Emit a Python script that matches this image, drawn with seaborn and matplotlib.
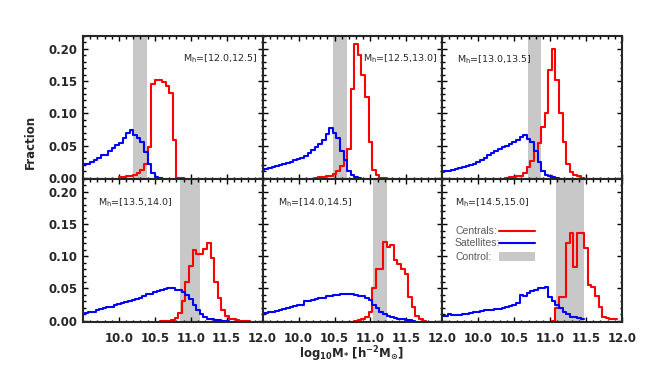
import numpy as np
import pandas as pd
import matplotlib
matplotlib.use("Agg")
import matplotlib.pyplot as plt
import seaborn as sns
from matplotlib.lines import Line2D
from matplotlib.patches import Rectangle
from matplotlib.ticker import FixedLocator, MultipleLocator, FormatStrFormatter

# halo mass bin of each panel
halo_labels = ["[12.0,12.5]", "[12.5,13.0]", "[13.0,13.5]",
               "[13.5,14.0]", "[14.0,14.5]", "[14.5,15.0]"]

# grey control sample range (log10 M*)
control_lo = [10.19, 10.48, 10.69, 10.85, 11.03, 11.08]
control_hi = [10.39, 10.68, 10.875, 11.135, 11.23, 11.475]

bin_width = 0.05

# centrals: left edge of first bin, then fraction per bin
cen_start = [10.0, 10.225, 10.375, 10.575, 10.775, 11.025]
cen_1 = [0.001, 0.001, 0.002, 0.003, 0.004, 0.007, 0.012, 0.022, 0.047, 0.146,
         0.151, 0.152, 0.149, 0.143, 0.131, 0.059, 0.0, 0.0]
cen_2 = [0.0, 0.001, 0.001, 0.002, 0.003, 0.006, 0.010, 0.018, 0.027, 0.044,
         0.138, 0.208, 0.190, 0.160, 0.125, 0.056, 0.012, 0.004, 0.0, 0.0]
cen_3 = [0.0, 0.001, 0.001, 0.002, 0.003, 0.008, 0.016, 0.026, 0.042, 0.054,
         0.078, 0.100, 0.168, 0.200, 0.152, 0.100, 0.056, 0.022, 0.009, 0.004,
         0.002, 0.0]
cen_4 = [0.0, 0.0, 0.0, 0.001, 0.004, 0.012, 0.030, 0.060, 0.085, 0.110,
         0.103, 0.104, 0.112, 0.120, 0.097, 0.060, 0.036, 0.017, 0.007, 0.003,
         0.002, 0.001, 0.0, 0.0, 0.0]
cen_5 = [0.0, 0.001, 0.003, 0.006, 0.014, 0.050, 0.080, 0.080, 0.122, 0.115,
         0.117, 0.095, 0.088, 0.080, 0.073, 0.037, 0.022, 0.007, 0.002, 0.0]
cen_6 = [0.0, 0.020, 0.037, 0.037, 0.121, 0.136, 0.083, 0.136, 0.136, 0.113,
         0.055, 0.053, 0.038, 0.022, 0.006, 0.004, 0.003, 0.002]

# satellites
sat_start = [9.5, 9.475, 9.475, 9.475, 9.475, 9.475]
sat_1 = [0.022, 0.022, 0.024, 0.028, 0.030, 0.035, 0.036, 0.041, 0.046, 0.051,
         0.054, 0.061, 0.070, 0.074, 0.066, 0.062, 0.056, 0.040, 0.022, 0.007,
         0.001, 0.0]
sat_2 = [0.012, 0.013, 0.015, 0.016, 0.018, 0.019, 0.021, 0.023, 0.025, 0.027,
         0.029, 0.031, 0.034, 0.038, 0.043, 0.048, 0.053, 0.059, 0.068, 0.077,
         0.069, 0.061, 0.042, 0.027, 0.010, 0.004, 0.001, 0.0]
sat_3 = [0.009, 0.010, 0.011, 0.012, 0.013, 0.015, 0.016, 0.018, 0.020, 0.022,
         0.025, 0.028, 0.031, 0.035, 0.038, 0.042, 0.045, 0.047, 0.050, 0.053,
         0.055, 0.058, 0.063, 0.066, 0.060, 0.055, 0.041, 0.025, 0.010, 0.004,
         0.002, 0.001, 0.0]
sat_4 = [0.011, 0.012, 0.013, 0.014, 0.016, 0.018, 0.019, 0.021, 0.022, 0.024,
         0.026, 0.027, 0.029, 0.031, 0.032, 0.034, 0.036, 0.038, 0.041, 0.042,
         0.045, 0.046, 0.047, 0.049, 0.050, 0.050, 0.047, 0.048, 0.045, 0.040,
         0.033, 0.025, 0.017, 0.010, 0.006, 0.003, 0.002, 0.001, 0.001, 0.0,
         0.0]
sat_5 = [0.011, 0.012, 0.013, 0.014, 0.015, 0.017, 0.018, 0.020, 0.021, 0.023,
         0.024, 0.025, 0.031, 0.030, 0.032, 0.033, 0.036, 0.036, 0.038, 0.039,
         0.040, 0.040, 0.041, 0.042, 0.041, 0.041, 0.040, 0.039, 0.038, 0.036,
         0.032, 0.024, 0.019, 0.014, 0.010, 0.007, 0.005, 0.004, 0.002, 0.002,
         0.001, 0.001, 0.0]
sat_6 = [0.008, 0.008, 0.010, 0.009, 0.009, 0.009, 0.011, 0.010, 0.012, 0.014,
         0.014, 0.015, 0.016, 0.016, 0.017, 0.018, 0.018, 0.020, 0.021, 0.023,
         0.025, 0.028, 0.040, 0.039, 0.043, 0.046, 0.048, 0.050, 0.050, 0.053,
         0.037, 0.030, 0.025, 0.019, 0.014, 0.010, 0.006, 0.005, 0.004, 0.003]

cen_vals = [cen_1, cen_2, cen_3, cen_4, cen_5, cen_6]
sat_vals = [sat_1, sat_2, sat_3, sat_4, sat_5, sat_6]

grey = "#c8c8c8"

sns.set_style("ticks")
plt.rcParams["font.family"] = ["DejaVu Sans"]
plt.rcParams["font.weight"] = "bold"
plt.rcParams["axes.linewidth"] = 1.5
plt.rcParams["mathtext.default"] = "regular"

fig, axes = plt.subplots(2, 3, figsize=(6.64, 3.69), dpi=100, sharex=True, sharey=True)
fig.subplots_adjust(left=0.125, right=0.9367, top=0.9024, bottom=0.1274,
                    wspace=0, hspace=0)

for i, ax in enumerate(axes.flat):
    ax.axvspan(control_lo[i], control_hi[i], color=grey, lw=0, zorder=0)
    for start, vals, col in [(cen_start[i], cen_vals[i], "red"),
                             (sat_start[i], sat_vals[i], "blue")]:
        edges = start + bin_width * np.arange(len(vals) + 1)
        df = pd.DataFrame({"mstar": edges[:-1] + bin_width / 2, "frac": vals})
        sns.histplot(data=df, x="mstar", weights="frac", bins=list(edges),
                     element="step", fill=False, color=col, linewidth=1.5, ax=ax)
    ax.set_xlim(9.5, 12.0)
    ax.set_ylim(-0.002, 0.22)
    ax.set_xlabel("")
    ax.set_ylabel("")
    ax.xaxis.set_major_locator(FixedLocator([10.0, 10.5, 11.0, 11.5, 12.0]))
    ax.xaxis.set_minor_locator(MultipleLocator(0.1))
    ax.yaxis.set_major_locator(MultipleLocator(0.05))
    ax.yaxis.set_minor_locator(MultipleLocator(0.01))
    ax.xaxis.set_major_formatter(FormatStrFormatter("%.1f"))
    ax.yaxis.set_major_formatter(FormatStrFormatter("%.2f"))
    ax.tick_params(which="both", direction="in", top=True, right=True,
                   labelsize=8.5, width=1.0, color="black")
    ax.tick_params(which="major", length=3.5)
    ax.tick_params(which="minor", length=1.8)
    ax.tick_params(axis="x", pad=7)
    ax.tick_params(axis="y", pad=4)

    label = "M$_h$=" + halo_labels[i]
    if i < 2:
        ax.text(0.972, 0.84, label, transform=ax.transAxes, ha="right", va="center",
                fontsize=6.8, fontweight="normal")
    else:
        ax.text(0.072 if i == 5 else 0.083, 0.835, label, transform=ax.transAxes,
                ha="left", va="center", fontsize=6.8, fontweight="normal")

# key in the last panel: text first, then the sample symbol
key_ax = axes[1, 2]
key_rows = [("Centrals:", "red", 0.638), ("Satellites:", "blue", 0.552),
            ("Control:", grey, 0.458)]
for text, col, yk in key_rows:
    key_ax.text(0.071, yk, text, transform=key_ax.transAxes, ha="left",
                va="center", fontsize=7.5, fontweight="normal", color="#5a5a5a",
                family="Liberation Sans")
    if col == grey:
        key_ax.add_patch(Rectangle((0.315, yk - 0.028), 0.199, 0.056,
                                   transform=key_ax.transAxes, facecolor=grey,
                                   edgecolor="none"))
    else:
        key_ax.add_line(Line2D([0.315, 0.514], [yk, yk], transform=key_ax.transAxes,
                               color=col, lw=1.5))

fig.text(30 / 664, 1 - 142 / 369, "Fraction", rotation=90, ha="center",
         va="center", fontsize=8.5, fontweight="bold")
fig.text(352 / 664, 1 - 354 / 369,
         r"log$_{\mathbf{10}}$M$_{\mathbf{*}}$ [h$^{\mathbf{-2}}$M$_{\odot}$]",
         ha="center", va="center", fontsize=8.5, fontweight="bold")

fig.savefig("out.png", dpi=100)
